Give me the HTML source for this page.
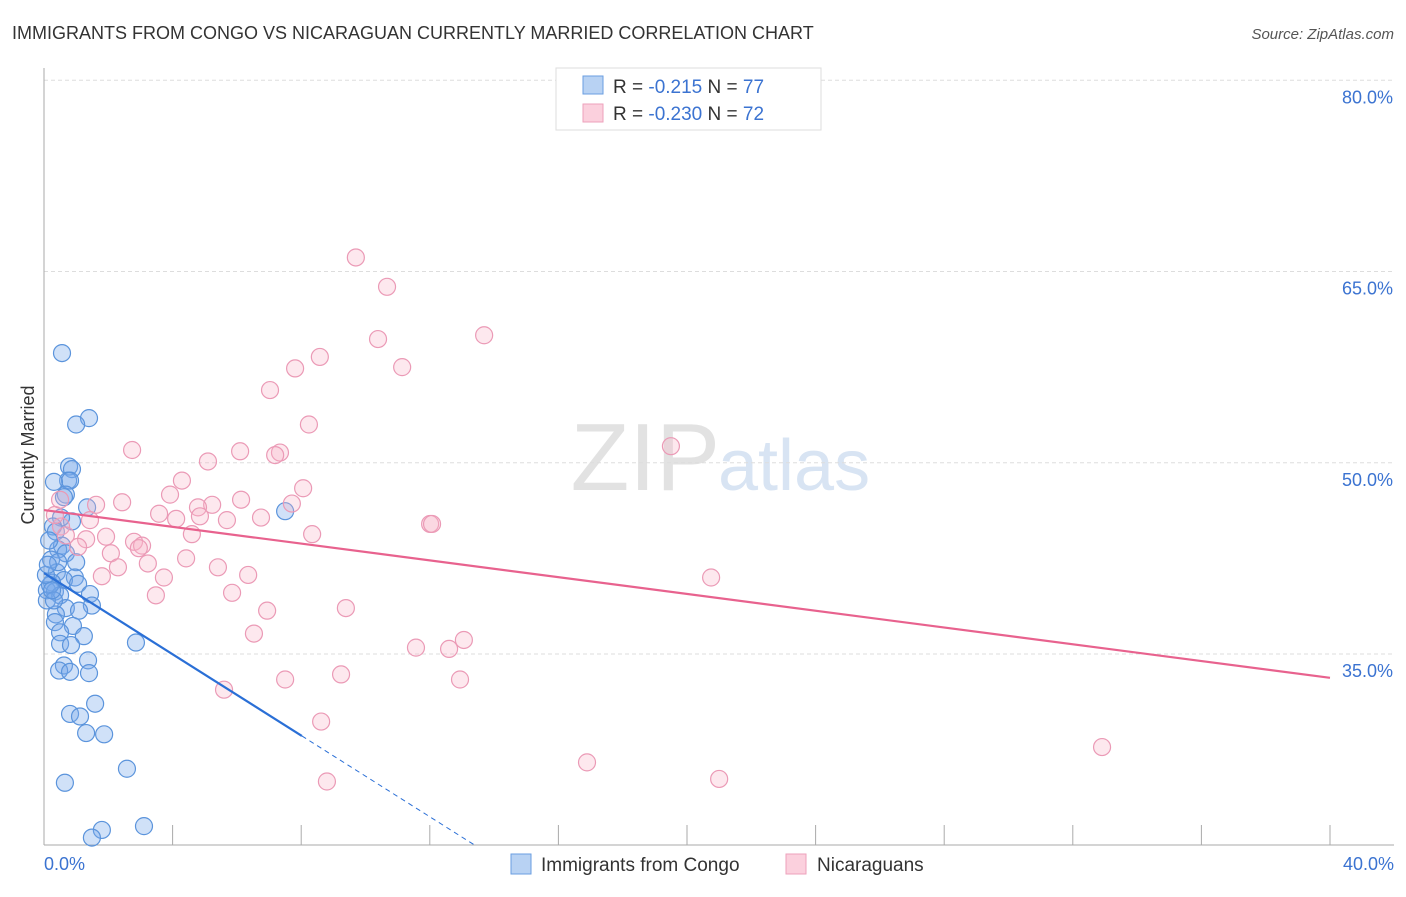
<!DOCTYPE html>
<html><head><meta charset="utf-8"><style>
body{margin:0;background:#fff;font-family:"Liberation Sans",sans-serif}
svg text{font-family:"Liberation Sans",sans-serif}
</style></head><body>
<svg width="1406" height="892" xmlns="http://www.w3.org/2000/svg">
<text x="12" y="39" font-size="18" fill="#333">IMMIGRANTS FROM CONGO VS NICARAGUAN CURRENTLY MARRIED CORRELATION CHART</text>
<text x="1394" y="39" font-size="15" fill="#555" font-style="italic" text-anchor="end">Source: ZipAtlas.com</text>
<text x="720" y="490" font-size="96" fill="#e2e2e2" text-anchor="end" font-family="Liberation Serif">ZIP</text>
<text x="718" y="490" font-size="72" fill="#d8e4f3">atlas</text>
<g id="grid"></g>
<g id="axes"></g>
<g id="pts"></g>
<g id="lines"></g>
<text transform="translate(34,455) rotate(-90)" font-size="18" fill="#333" text-anchor="middle">Currently Married</text>
<text x="44" y="870" font-size="18" fill="#3b73d1">0.0%</text>
<text x="1394" y="870" font-size="18" fill="#3b73d1" text-anchor="end">40.0%</text>
<g>
<rect x="556" y="68" width="265" height="62" fill="#fff" stroke="#ddd"/>
<rect x="583" y="76" width="20" height="18" fill="#b8d2f3" stroke="#6a9ee0"/>
<rect x="583" y="104" width="20" height="18" fill="#fbd0dd" stroke="#eea1bb"/>
<text x="613" y="93" font-size="19" fill="#333">R = <tspan fill="#3b73d1">-0.215</tspan>   N = <tspan fill="#3b73d1">77</tspan></text>
<text x="613" y="120" font-size="19" fill="#333">R = <tspan fill="#3b73d1">-0.230</tspan>   N = <tspan fill="#3b73d1">72</tspan></text>
</g>
<g>
<rect x="511" y="854" width="20" height="20" fill="#b8d2f3" stroke="#6a9ee0"/>
<text x="541" y="871" font-size="19" fill="#333">Immigrants from Congo</text>
<rect x="786" y="854" width="20" height="20" fill="#fbd0dd" stroke="#eea1bb"/>
<text x="817" y="871" font-size="19" fill="#333">Nicaraguans</text>
</g>
</svg>
<script>
const yTicks=[35,50,65,80];
const xTicks=[0,4,8,12,16,20,24,28,32,36,40];
const blueX=[0.56,1.40,1.00,0.78,0.87,0.75,0.81,0.31,0.68,0.62,1.34,7.50,0.87,0.53,0.28,0.37,0.56,0.44,0.68,0.22,1.00,0.40,0.96,0.62,1.06,0.25,0.09,0.34,0.50,1.43,1.49,0.68,1.09,0.37,0.34,0.90,0.50,1.24,2.86,0.50,0.84,1.37,0.62,0.47,0.81,1.40,1.59,0.81,1.12,1.31,1.87,2.58,0.65,3.11,1.80,1.49,0.16,0.19,0.09,0.31,0.06,0.25,0.44,0.12];
const blueY=[58.6,53.5,53.0,49.7,49.5,48.6,48.6,48.5,47.5,47.3,46.5,46.2,45.4,45.7,45.0,44.6,43.5,43.2,42.9,42.4,42.2,41.4,41.0,40.8,40.5,40.6,40.0,39.9,39.6,39.7,38.8,38.6,38.4,38.1,37.5,37.2,36.7,36.4,35.9,35.8,35.7,34.5,34.1,33.7,33.6,33.5,31.1,30.3,30.1,28.8,28.7,26.0,24.9,21.5,21.2,20.6,43.9,40.4,39.2,39.2,41.2,40.0,42.2,42.0];
const pinkX=[9.70,10.67,13.69,10.39,8.58,11.14,7.81,7.03,8.24,19.50,2.74,6.10,7.34,5.10,7.19,4.29,8.06,3.92,1.62,2.43,6.13,7.71,5.23,4.79,3.58,5.69,4.11,6.75,4.85,1.43,12.01,12.07,0.53,4.60,8.34,1.93,1.31,2.80,3.05,1.06,2.95,2.08,4.42,3.23,2.30,5.41,6.35,1.80,3.73,20.75,5.85,3.48,9.39,6.94,6.53,13.06,11.57,12.60,7.50,9.24,12.94,5.60,8.62,32.91,16.89,21.00,8.80,0.34,0.50,0.68];
const pinkY=[66.1,63.8,60.0,59.7,58.3,57.5,57.4,55.7,53.0,51.3,51.0,50.9,50.8,50.1,50.6,48.6,48.0,47.5,46.7,46.9,47.1,46.8,46.7,46.5,46.0,45.5,45.6,45.7,45.8,45.5,45.2,45.2,45.0,44.4,44.4,44.2,44.0,43.8,43.5,43.4,43.3,42.9,42.5,42.1,41.8,41.8,41.2,41.1,41.0,41.0,39.8,39.6,38.6,38.4,36.6,36.1,35.5,35.4,33.0,33.4,33.0,32.2,29.7,27.7,26.5,25.2,25.0,45.9,47.1,44.3];
const blueTrend=[41.35,-1.593];
const pinkTrend=[46.29,-0.329];
const X=v=>44+v*32.15, Y=v=>654-(v-35)*12.75;
const NS="http://www.w3.org/2000/svg";
function mk(p,t,a){const e=document.createElementNS(NS,t);for(const k in a)e.setAttribute(k,a[k]);p.appendChild(e);return e;}
const grid=document.getElementById('grid'),axes=document.getElementById('axes'),pts=document.getElementById('pts'),lines=document.getElementById('lines');
yTicks.forEach(v=>{
 const l=mk(grid,'line',{x1:44,x2:1394,y1:Y(v),y2:Y(v),stroke:'#ddd','stroke-dasharray':'4,3'});
 
 
 const t=mk(grid,'text',{x:1393,y:Y(v)+23,'font-size':18,fill:'#3b73d1','text-anchor':'end'});
 t.textContent=v.toFixed(1)+'%';
 
 
});
const ax=mk(axes,'line',{x1:44,x2:44,y1:68,y2:845,stroke:'#aaa'});


const bx=mk(axes,'line',{x1:44,x2:1394,y1:845,y2:845,stroke:'#aaa'});


xTicks.forEach(v=>{if(v===0)return;
 const l=mk(axes,'line',{x1:X(v),x2:X(v),y1:825,y2:845,stroke:'#aaa'});
 
 
});
blueX.forEach((x,i)=>{
 const c=mk(pts,'circle',{cx:X(x),cy:Y(blueY[i]),r:8.5,fill:'rgba(120,170,235,0.35)',stroke:'#5b94dc','stroke-width':1.2});
 
 
});
pinkX.forEach((x,i)=>{
 const c=mk(pts,'circle',{cx:X(x),cy:Y(pinkY[i]),r:8.5,fill:'rgba(248,180,200,0.3)',stroke:'#eb9ab6','stroke-width':1.2});
 
 
});
const pl=mk(lines,'line',{x1:X(0),y1:Y(pinkTrend[0]),x2:X(40),y2:Y(pinkTrend[0]+pinkTrend[1]*40),stroke:'#e8628e','stroke-width':2.2});


const bl=mk(lines,'line',{x1:X(0),y1:Y(blueTrend[0]),x2:X(8.02),y2:Y(blueTrend[0]+blueTrend[1]*8.02),stroke:'#2a6fd6','stroke-width':2.2});


const xEnd=(blueTrend[0]-20.0)/(-blueTrend[1]);
const bd=mk(lines,'line',{x1:X(8.02),y1:Y(blueTrend[0]+blueTrend[1]*8.02),x2:X(xEnd),y2:Y(blueTrend[0]+blueTrend[1]*xEnd),stroke:'#2a6fd6','stroke-width':1,'stroke-dasharray':'5,4'});


</script>
</body></html>
